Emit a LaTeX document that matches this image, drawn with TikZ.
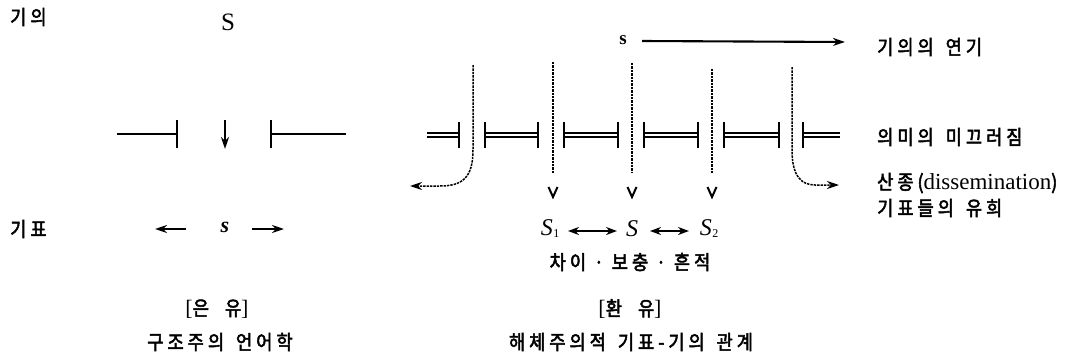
\documentclass[tikz,border=0pt]{standalone}
\usepackage{fontspec}
\setmainfont{Liberation Serif}
\newfontfamily\kr{Noto Sans CJK KR}[FakeStretch=0.88, LetterSpace=20, FakeBold=2.5]
\usetikzlibrary{arrows.meta}
\tikzset{
  lbl/.style={inner sep=0pt, font=\kr\fontsize{20}{22}\selectfont},
  lat/.style={inner sep=0pt},
  bar/.style={line width=2.2pt},
  tick/.style={line width=2.3pt},
  dbl/.style={double, double distance=2pt, line width=1.6pt},
  dots/.style={line width=1.5pt, dash pattern=on 2.4pt off 1pt},
  tip/.style={-{Stealth[length=12pt,width=8pt]}},
  arr/.style={line width=2.1pt, tip},
  darr/.style={line width=2.1pt, {Stealth[length=11pt,width=8pt]}-{Stealth[length=11pt,width=8pt]}},
  vee/.style={line width=2pt},
}
\newcommand{\lbr}{{\rmfamily\fontsize{22}{24}\selectfont[}}
\newcommand{\rbr}{{\rmfamily\fontsize{22}{24}\selectfont]}}
\begin{document}
\begin{tikzpicture}[x=1pt,y=-1pt]
\useasboundingbox (0,0) rectangle (1068,356);
% ---------------- left panel
\node[lbl, anchor=west] (gi) at (10,17) {기의};
\node[lbl, anchor=west] (gp) at (10,229) {기표};
\node[lat, font=\fontsize{25}{27}\selectfont] (Sup) at (228,22) {S};
% bars
\coordinate (lb1) at (117,134); \coordinate (lb2) at (177,134);
\draw[bar] (lb1) -- (lb2);
\draw[tick] (177,120) -- (177,148);
\coordinate (da1) at (225,120); \coordinate (da2) at (225,149);
\draw[arr] (da1) -- (da2);
\coordinate (rb1) at (271,134); \coordinate (rb2) at (346,134);
\draw[tick] (271,120) -- (271,148);
\draw[bar] (rb1) -- (rb2);
\node[lat, font=\bfseries\itshape\fontsize{22}{24}\selectfont] (sl) at (225,227) {s};
\coordinate (la1) at (186,229); \coordinate (la2) at (155,229);
\coordinate (ra1) at (252,229); \coordinate (ra2) at (284,229);
\draw[arr] (la1) -- (la2);
\draw[arr] (ra1) -- (ra2);
\node[lbl] (eun) at (217,309) {\lbr 은\hspace{16pt}유\rbr};
\node[lbl] (gujo) at (220,342) {구조주의\hspace{4pt} 언어학};
% ---------------- right panel
\node[lat, font=\bfseries\fontsize{19}{21}\selectfont] (st) at (623,40) {s};
\coordinate (ts) at (642,41); \coordinate (ta) at (845,42);
\draw[arr] (ts) -- (ta);
\node[lbl, anchor=west] (yeon) at (877,47) {기의의\hspace{4pt} 연기};
\node[lbl, anchor=west] (mik) at (877,137) {의미의\hspace{4pt} 미끄러짐};
\node[lbl, anchor=west] (san) at (877,183) {산종({\rmfamily\fontsize{23}{24}\selectfont dissemination})};
\node[lbl, anchor=west] (yu) at (877,208) {기표들의\hspace{4pt} 유희};
% double bars
\draw[dbl] (427,135) -- (459,135);
\draw[tick] (459,122) -- (459,148);
\foreach \a/\b in {485/538, 564/618, 644/698, 724/779}{
  \draw[dbl] (\a,135) -- (\b,135);
  \draw[tick] (\a,122) -- (\a,148);
  \draw[tick] (\b,122) -- (\b,148);
}
\draw[dbl] (803,135) -- (840,135);
\draw[tick] (803,122) -- (803,148);
% dotted verticals
\foreach \x/\t in {553/62, 632/63, 712/69}{
  \draw[dots] (\x,\t) -- (\x,173);
  \draw[vee] (\x-4.5,187) -- (\x,197) -- (\x+4.5,187);
}
% curved dotted arrows
\coordinate (lc0) at (473,65); \coordinate (lcE) at (410,186);
\draw[dots, tip] (lc0) -- (473,150) .. controls (473,178) and (462,186) .. (440,186) -- (lcE);
\coordinate (rc0) at (792,67); \coordinate (rcE) at (839,185);
\draw[dots, tip] (rc0) -- (792,150) .. controls (792,177) and (802,185) .. (815,185) -- (rcE);
% S1 S S2
\node[lat, font=\itshape\fontsize{24}{26}\selectfont] (S1) at (550,229) {S\kern0.5pt\raisebox{-2pt}{\upshape\fontsize{12}{12}\selectfont 1}};
\node[lat, font=\itshape\fontsize{24}{26}\selectfont] (S0) at (632,229) {S};
\node[lat, font=\itshape\fontsize{24}{26}\selectfont] (S2) at (709,229) {S\kern0.5pt\raisebox{-2pt}{\upshape\fontsize{12}{12}\selectfont 2}};
\draw[darr] (568,231) -- (617,231);
\draw[darr] (650,231) -- (689,231);
\node[lbl] (cha) at (630,262) {차이 · 보충 · 흔적};
\node[lbl] (hwan) at (630,309) {\lbr 환\hspace{16pt}유\rbr};
\node[lbl] (hae) at (631,342) {해체주의적\hspace{4pt} 기표-기의\hspace{4pt} 관계};
\end{tikzpicture}
\end{document}
